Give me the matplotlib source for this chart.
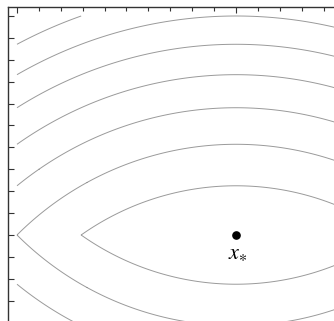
import numpy as np
import matplotlib
matplotlib.use("Agg")
import matplotlib.pyplot as plt
from matplotlib.ticker import MultipleLocator

# data
levels = [0.25, 0.5, 0.75, 1.0, 1.25, 1.5, 1.75, 2.0, 2.25, 2.5]
grid_x = np.linspace(-1.0, 1.0, 801)
grid_y = np.linspace(-1.0, 1.0, 801)
x_star = [0.0, 0.0]
star_label = r"$x_{\ast}$"

X, Y = np.meshgrid(grid_x, grid_y)
F = np.abs(Y) + 0.5 * (X**2 + Y**2)

fig = plt.figure(figsize=(3.34, 3.21), dpi=100)
W, H = 334, 321
ax = fig.add_axes([7.5 / W, 0, 1 - 7.5 / W, 1 - 7.0 / H])
ax.contour(X, Y, F, levels=levels, colors="#9a9a9a", linewidths=0.7)
ax.plot([x_star[0]], [x_star[1]], "o", color="black", markersize=5.2)
ax.text(x_star[0] + 0.01, x_star[1] - 0.03, star_label, ha="center", va="top",
        fontsize=16, math_fontfamily="stix")

s = 219.0
ax.set_xlim(-1 - 9.5 / s, 98 / s)
ax.set_ylim(-86 / s, 1 + 9 / s)

ax.spines["right"].set_visible(False)
ax.spines["bottom"].set_visible(False)
for sp in ("left", "top"):
    ax.spines[sp].set_linewidth(1.0)
    ax.spines[sp].set_color("#333333")

ax.xaxis.set_major_locator(MultipleLocator(1.0))
ax.xaxis.set_minor_locator(MultipleLocator(0.1))
ax.yaxis.set_major_locator(MultipleLocator(0.1))
ax.tick_params(axis="x", which="both", top=True, bottom=False, labeltop=False,
               labelbottom=False, direction="in", color="#333333")
ax.tick_params(axis="x", which="major", length=4.5, width=0.8)
ax.tick_params(axis="x", which="minor", length=3, width=0.8)
ax.tick_params(axis="y", which="both", left=True, right=False, labelleft=False,
               direction="in", length=4, width=0.8, color="#333333")

fig.savefig("out.png", dpi=100)
